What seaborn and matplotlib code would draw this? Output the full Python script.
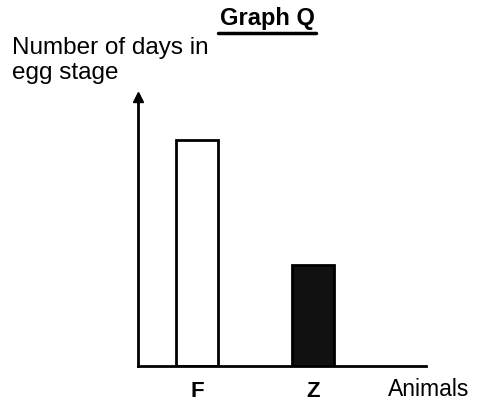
import matplotlib
matplotlib.use("Agg")
import matplotlib.pyplot as plt
import seaborn as sns
import pandas as pd
from matplotlib.lines import Line2D

# datos (unidades arbitrarias)
animals = ["F", "Z"]
days = [9, 4]
bar_colors = ["white", "#111111"]

df = pd.DataFrame({"Animal": animals, "Days": days})

sns.set_style("white")
plt.rcParams["font.family"] = ["Liberation Sans", "DejaVu Sans"]
plt.rcParams["text.color"] = "black"
plt.rcParams["xtick.color"] = "black"

W, H = 482, 403
fig = plt.figure(figsize=(W / 100, H / 100), dpi=100)
ax = fig.add_axes([138 / W, (H - 366) / H, (426 - 138) / W, (366 - 97) / H])

sns.barplot(data=df, x="Animal", y="Days", hue="Animal", palette=bar_colors,
            edgecolor="black", linewidth=2, width=0.36, legend=False, ax=ax)

ax.set_xlim(-0.51, 1.97)
ax.set_ylim(0, 10.7)
ax.set_yticks([])
ax.set_xlabel("")
ax.set_ylabel("")
ax.tick_params(axis="x", length=0, pad=11, labelsize=16, labelcolor="black")
for lbl in ax.get_xticklabels():
    lbl.set_fontweight("bold")

for s in ["top", "right"]:
    ax.spines[s].set_visible(False)
for s in ["left", "bottom"]:
    ax.spines[s].set_linewidth(2)
    ax.spines[s].set_color("black")

# flecha del eje y
ax.plot(0, 1, marker="^", color="black", markersize=7, transform=ax.transAxes, clip_on=False)

# textos
fig.text(267 / W, 1 - 19 / H, "Graph Q", ha="center", va="center", fontsize=17, fontweight="bold")
fig.add_artist(Line2D([218 / W, 316 / W], [1 - 33 / H, 1 - 33 / H], color="black", linewidth=2.5))
fig.text(12 / W, 1 - 48 / H, "Number of days in", ha="left", va="center", fontsize=17.5)
fig.text(12 / W, 1 - 73 / H, "egg stage", ha="left", va="center", fontsize=17.5)
fig.text(388 / W, 1 - 390 / H, "Animals", ha="left", va="center", fontsize=16.5)

fig.savefig("out.png", dpi=100)
